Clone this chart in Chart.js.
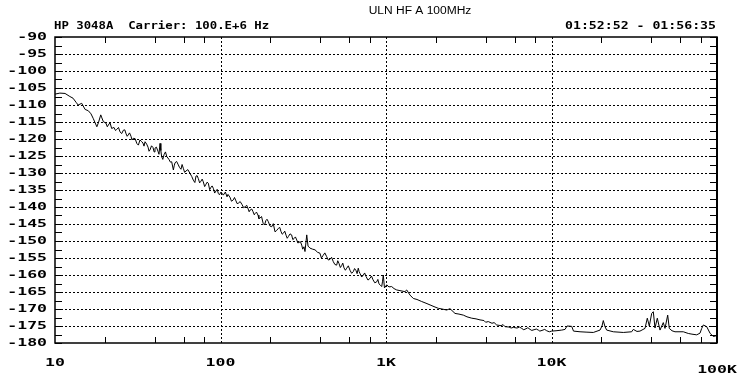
<!DOCTYPE html>
<html>
<head>
<meta charset="utf-8">
<script src="https://cdn.jsdelivr.net/npm/chart.js@4/dist/chart.umd.min.js"></script>
<style>
  html, body { margin: 0; padding: 0; background: #fff; }
  #wrap { width: 741px; height: 378px; }
</style>
</head>
<body>
<div id="wrap"><canvas id="c" width="741" height="378"></canvas></div>
<script>
// ---- data ----
const freqHz = [
  10, 10.7, 11.5, 12.3, 12.85, 13.4, 13.8, 14.5, 15.2, 15.9, 16.5, 17.0, 17.9, 18.3, 18.9, 19.6,
  20.3, 21.0, 22.0, 22.7, 23.6, 24.7, 25.9, 26.9, 27.7, 28.8, 29.7, 31.2, 32.6, 34.0, 35.0, 36.5,
  37.5, 39.1, 40.2, 41.9, 43.1, 44.1, 45.6, 47.3, 48.8, 50.7, 51.9, 53.1, 55.6, 57.7, 59.6, 61.9,
  65.4, 68.5, 71.1, 73.4, 76.2, 78.7, 81.7, 84.4, 87.6, 90.5, 93.9, 97.0, 100.7, 104, 107, 109.5,
  114, 119.5, 124, 128, 135, 141, 147, 151, 157, 162, 168.5, 173, 181, 188, 194.5, 204,
  213.5, 223.5, 232, 240, 249, 257, 269, 278, 289, 298, 309.5, 319.5, 324, 332, 338, 347.5,
  360, 372.5, 385.5, 399, 416, 438, 459, 480.5, 503.5, 520, 540, 557.5, 579, 606, 634.5, 659,
  680, 697, 729.5, 757, 800, 834.5, 879, 907, 942, 963, 979, 1010, 1042, 1082, 1118, 1161,
  1215, 1302, 1334, 1396, 1462, 1539, 1643, 1745, 1845, 1950, 2070, 2180, 2327, 2437, 2612, 2761,
  2932, 3086, 3295, 3499, 3698, 3910, 4151, 4370, 4666, 4954, 5236, 5536, 5879, 6187, 6607, 7016,
  7418, 7842, 8324, 8763, 9354, 10030, 10650, 11530, 12070, 12410, 13250, 13580, 14870, 16170, 17890, 19640,
  20190, 20560, 21050, 21550, 23630, 27160, 30520, 31210, 32850, 34250, 36730, 37920, 38990, 40310, 41220, 42210,
  43580, 45250, 47370, 48510, 50360, 51490, 53460, 55740, 62580, 67080, 70620, 75400, 78960, 80850, 82650, 86660,
  90720, 95000, 100000,
  // finer noise detail
  19.2, 20.7, 21.5, 23.2, 24.2, 25.3, 26.4, 27.3, 28.2, 29.2, 30.5, 31.9, 33.3, 34.5, 35.8, 37.0,
  38.3, 39.7, 41.0, 42.5, 43.6, 44.8,
  46.5, 49.8, 52.5, 54.3, 56.6, 58.6, 60.7, 63.5, 67, 70, 72.3, 74.8, 77.5, 80.2, 83, 86,
  89, 92.2, 95.5, 98.5,
  111, 116.5, 121.5, 126, 131.5, 138, 144, 149, 154.5, 160, 165, 170.5, 177, 184.5, 191, 199,
  208.5, 218.5, 228, 236, 244.5, 253, 263, 273.5, 283.5, 293.5, 304, 314,
  407, 427, 448, 469, 491, 511, 530, 548, 568, 592, 620, 646, 669, 688, 713, 743,
  778, 817, 856, 893, 925, 952,
  4000, 4500, 5100, 5700, 6400, 6800, 7200, 7600, 8100, 8500, 9100, 9700
];
const phaseNoiseDbc = [
  -106.8, -106.5, -106.6, -107.5, -108.0, -109.2, -110.0, -109.5, -111.3, -111.7, -112.6, -113.9, -116.4, -115.2, -112.9, -114.9,
  -115.3, -115.9, -116.9, -116.6, -117.2, -117.9, -117.4, -118.5, -118.8, -119.2, -119.8, -121.3, -120.3, -121.2, -120.8, -122.4,
  -123.2, -122.5, -122.7, -123.6, -121.3, -125.2, -124.6, -125.1, -126.0, -126.7, -129.1, -127.0, -127.6, -128.9, -128.6, -129.4,
  -130.1, -132.1, -130.9, -131.6, -132.4, -132.6, -133.3, -133.0, -134.2, -134.5, -135.3, -136.0, -135.6, -136.5, -135.6, -137.0,
  -137.1, -137.9, -138.2, -138.9, -139.3, -139.9, -140.6, -140.9, -141.3, -141.9, -142.4, -143.3, -144.8, -144.0, -144.3, -145.8,
  -147.3, -146.3, -147.2, -147.7, -148.3, -148.7, -148.2, -149.3, -149.7, -150.4, -151.2, -151.7, -153.1, -148.2, -151.5, -152.1,
  -152.4, -152.6, -153.3, -153.6, -154.3, -154.6, -155.4, -156.1, -157.1, -156.6, -157.2, -157.9, -158.0, -158.6, -159.0, -158.7,
  -158.0, -159.6, -160.0, -160.4, -161.0, -161.4, -162.0, -162.6, -163.4, -160.0, -163.8, -162.9, -163.5, -163.4, -164.0, -164.4,
  -164.6, -164.9, -164.4, -165.9, -166.9, -167.2, -167.8, -168.3, -168.8, -169.3, -169.8, -170.0, -170.3, -169.9, -171.3, -171.5,
  -171.8, -172.3, -172.7, -172.9, -173.2, -173.4, -173.7, -174.2, -174.7, -174.9, -175.2, -175.3, -175.4, -175.6, -175.7, -175.8,
  -176.0, -176.1, -176.2, -176.3, -176.4, -176.5, -176.4, -176.2, -176.0, -175.0, -175.1, -176.5, -176.7, -176.8, -176.9, -176.2,
  -175.0, -173.4, -175.2, -176.2, -176.7, -176.9, -176.7, -176.0, -176.6, -176.5, -175.7, -172.7, -175.0, -171.3, -170.8, -175.6,
  -172.7, -176.2, -174.0, -175.7, -171.8, -175.7, -176.4, -176.7, -176.7, -177.2, -177.4, -177.6, -177.1, -175.7, -174.7, -175.2,
  -177.1, -178.1, -177.8,
  // finer noise detail
  -113.8, -116.4, -115.2, -117.5, -116.6, -118.4, -117.3, -119.2, -118.2, -120.3, -119.9, -121.8, -120.7, -122.1, -121.5, -123.6,
  -122.0, -123.8, -122.4, -124.5, -123.4, -126.0,
  -123.8, -126.8, -127.9, -126.6, -128.4, -127.5, -129.8, -129.0, -131.0, -132.8, -130.8, -132.9, -131.8, -134.0, -132.7, -134.9,
  -133.8, -135.9, -134.8, -136.4,
  -136.3, -138.3, -137.2, -139.0, -138.4, -140.2, -139.5, -141.4, -140.6, -142.3, -141.5, -143.4, -142.8, -145.3, -143.6, -145.6,
  -144.9, -146.9, -146.0, -148.0, -147.1, -149.2, -147.9, -149.6, -148.8, -150.6, -150.2, -152.4,
  -155.0, -153.5, -155.6, -154.8, -156.9, -155.8, -157.8, -156.5, -158.6, -157.3, -159.5, -158.1, -159.6, -159.0, -160.6, -159.4,
  -161.5, -160.3, -162.3, -161.3, -163.0, -162.0,
  -173.9, -174.0, -174.6, -175.6, -175.3, -176.1, -175.5, -176.3, -175.9, -176.5, -176.0, -176.7
];
const yTickValues = [-90, -95, -100, -105, -110, -115, -120, -125, -130, -135, -140, -145, -150, -155, -160, -165, -170, -175, -180];
const yMinorValues = [-92.5, -97.5, -102.5, -107.5, -112.5, -117.5, -122.5, -127.5, -132.5, -137.5, -142.5, -147.5, -152.5, -157.5, -162.5, -167.5, -172.5, -177.5];
const xDecadeValues = [10, 100, 1000, 10000, 100000];
const xTickLabels = ['10', '100', '1K', '10K', '100K'];
const xMinorValues = [20, 40, 60, 80, 200, 400, 600, 800, 2000, 4000, 6000, 8000, 20000, 40000, 60000, 80000];
const chartTitle = 'ULN HF A 100MHz';
const headerLeft = 'HP 3048A  Carrier: 100.E+6 Hz';
const headerRight = '01:52:52 - 01:56:35';

// ---- drawing helpers ----
const AXIS_FONT = 'bold 11px "DejaVu Sans Mono"';
const AXIS_STRETCH = 1.5;
const HEAD_FONT = 'bold 11px "DejaVu Sans Mono"';
function stretchedText(ctx, text, x, y, font, align, sx) {
  ctx.save();
  ctx.font = font;
  ctx.textAlign = align;
  ctx.textBaseline = 'middle';
  ctx.fillStyle = '#000';
  ctx.translate(x, y);
  ctx.scale(sx, 1);
  ctx.fillText(text, 0, 0);
  ctx.restore();
}

const hpFrame = {
  id: 'hpFrame',
  beforeDatasetsDraw(chart) {
    const { ctx, chartArea: a, scales: { x, y } } = chart;
    ctx.save();
    ctx.strokeStyle = '#000';
    ctx.lineWidth = 1;
    ctx.setLineDash([2, 2]);
    yTickValues.forEach(v => {
      if (v === -90 || v === -180) return;
      const py = Math.round(y.getPixelForValue(v)) + 0.5;
      ctx.beginPath(); ctx.moveTo(a.left + 6, py); ctx.lineTo(a.right - 6, py); ctx.stroke();
    });
    xDecadeValues.forEach(v => {
      if (v === 10 || v === 100000) return;
      const px = Math.round(x.getPixelForValue(v)) + 0.5;
      ctx.beginPath(); ctx.moveTo(px, a.top); ctx.lineTo(px, a.bottom); ctx.stroke();
    });
    ctx.setLineDash([]);
    const tickLen = 7;
    yTickValues.concat(yMinorValues).forEach(v => {
      const py = Math.round(y.getPixelForValue(v)) + 0.5;
      ctx.beginPath();
      ctx.moveTo(a.left, py); ctx.lineTo(a.left + tickLen, py);
      ctx.moveTo(a.right, py); ctx.lineTo(a.right - tickLen, py);
      ctx.stroke();
    });
    xMinorValues.forEach(v => {
      const px = Math.round(x.getPixelForValue(v)) + 0.5;
      ctx.beginPath();
      ctx.moveTo(px, a.top); ctx.lineTo(px, a.top + 6);
      ctx.moveTo(px, a.bottom); ctx.lineTo(px, a.bottom - 6);
      ctx.stroke();
    });
    ctx.restore();
  },
  afterDatasetsDraw(chart) {
    const { ctx, chartArea: a, scales: { x, y } } = chart;
    ctx.save();
    ctx.strokeStyle = '#000';
    ctx.lineWidth = 1.5;
    ctx.strokeRect(a.left, a.top, a.right - a.left, a.bottom - a.top);
    ctx.lineWidth = 2;
    ctx.beginPath(); ctx.moveTo(a.right, a.top); ctx.lineTo(a.right, a.bottom); ctx.stroke();
    ctx.restore();
    yTickValues.forEach(v => {
      stretchedText(ctx, String(v), 47, y.getPixelForValue(v), AXIS_FONT, 'right', AXIS_STRETCH);
    });
    xDecadeValues.forEach((v, i) => {
      const py = (i === xDecadeValues.length - 1) ? 370 : 363;
      stretchedText(ctx, xTickLabels[i], x.getPixelForValue(v), py, AXIS_FONT, 'center', AXIS_STRETCH);
    });
    stretchedText(ctx, headerLeft, 54, 26, HEAD_FONT, 'left', 1.12);
    stretchedText(ctx, headerRight, 716, 26, HEAD_FONT, 'right', 1.2);
    stretchedText(ctx, chartTitle, 420, 11, '10px "Liberation Sans"', 'center', 1.2);
  }
};

const points = freqHz.map((f, i) => ({ x: f, y: phaseNoiseDbc[i] })).sort((p, q) => p.x - q.x);

new Chart(document.getElementById('c'), {
  type: 'line',
  data: {
    datasets: [{
      data: points,
      borderColor: '#000',
      borderWidth: 1,
      pointRadius: 0,
      tension: 0,
      fill: false
    }]
  },
  options: {
    responsive: false,
    animation: false,
    devicePixelRatio: 1,
    layout: { padding: { left: 55, right: 24, top: 37, bottom: 35 } },
    plugins: { legend: { display: false }, tooltip: { enabled: false }, title: { display: false } },
    scales: {
      x: { type: 'logarithmic', min: 10, max: 100000, display: false },
      y: { type: 'linear', min: -180, max: -90, display: false }
    }
  },
  plugins: [hpFrame]
});
</script>
</body>
</html>
